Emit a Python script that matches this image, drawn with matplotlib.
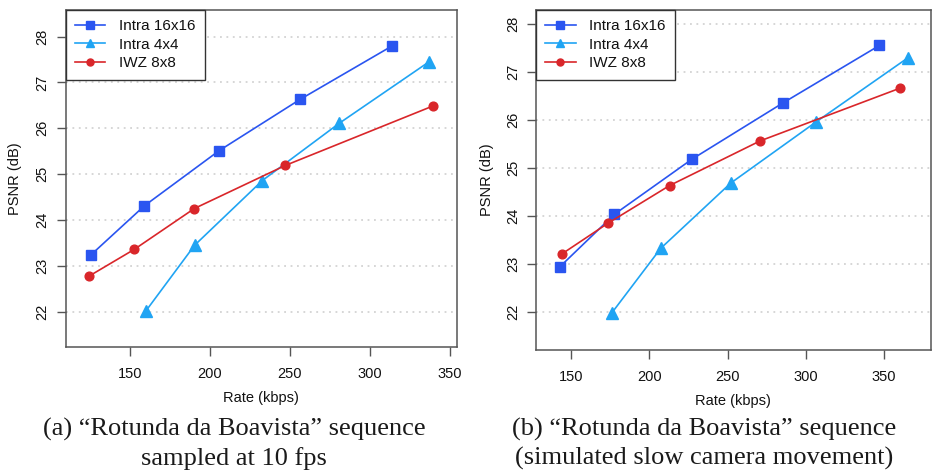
import matplotlib
matplotlib.use("Agg")
from matplotlib import pyplot as plt

plt.rcParams['font.family'] = ['Liberation Sans', 'DejaVu Sans']

labels = ["Intra 16x16", "Intra 4x4", "IWZ 8x8"]
colors = ["#2a55f0", "#20a4f3", "#d9262a"]
markers = ["s", "^", "o"]

# (a) sampled at 10 fps
rate_a = [
    [125.6, 159.0, 205.6, 256.3, 314.0],
    [160.0, 190.4, 232.7, 280.8, 336.9],
    [124.6, 152.7, 190.2, 247.1, 339.6],
]
psnr_a = [
    [23.24, 24.31, 25.51, 26.63, 27.80],
    [22.02, 23.45, 24.86, 26.11, 27.45],
    [22.78, 23.36, 24.25, 25.19, 26.49],
]

# (b) simulated slow camera movement
rate_b = [
    [143.0, 177.7, 227.3, 285.3, 347.0],
    [176.2, 207.3, 252.0, 306.3, 365.1],
    [144.0, 173.4, 213.0, 270.8, 360.2],
]
psnr_b = [
    [22.94, 24.03, 25.18, 26.35, 27.55],
    [21.98, 23.32, 24.68, 25.95, 27.29],
    [23.20, 23.84, 24.63, 25.56, 26.66],
]

xticks = [150, 200, 250, 300, 350]
yticks = [22, 23, 24, 25, 26, 27, 28]

captions = [
    "(a) \u201cRotunda da Boavista\u201d sequence\nsampled at 10 fps",
    "(b) \u201cRotunda da Boavista\u201d sequence\n(simulated slow camera movement)",
]

W, H = 933, 472
fig = plt.figure(figsize=(W / 100, H / 100), dpi=100)


def panel(box, rates, psnrs, xlim, ylim, xl, yl):
    x0, top, x1, bottom = box
    ax = fig.add_axes([x0 / W, 1 - bottom / H, (x1 - x0) / W, (bottom - top) / H])
    for y in yticks:
        ax.axhline(y, color="#cccccc", linestyle=(0, (1.2, 3)), linewidth=1.1, zorder=0)
    for r, p, c, m, lab in zip(rates, psnrs, colors, markers, labels):
        ms = 7.2 if m == "s" else (8 if m == "^" else 6.3)
        ax.plot(r, p, color=c, marker=m, markersize=ms, linewidth=1.2, label=lab)
    ax.set_xlim(*xlim)
    ax.set_ylim(*ylim)
    ax.set_xticks(xticks)
    ax.set_yticks(yticks)
    ax.tick_params(axis="both", direction="out", length=6.5, width=1, color="#555555",
                   labelsize=10.5, labelcolor="#111111")
    ax.tick_params(axis="x", pad=8)
    ax.tick_params(axis="y", pad=5)
    for t in ax.get_yticklabels():
        t.set_rotation(90)
        t.set_va("center")
    for s in ax.spines.values():
        s.set_color("#555555")
        s.set_linewidth(1.1)
    ax.set_xlabel("Rate (kbps)", fontsize=10.5, color="#111111")
    ax.set_ylabel("PSNR (dB)", fontsize=10.5, color="#111111")
    ax.xaxis.set_label_coords(0.5, xl)
    ax.xaxis.label.set_va("center")
    ax.yaxis.set_label_coords(yl, 0.5)
    ax.yaxis.label.set_va("center")
    leg = ax.legend(loc="upper left", bbox_to_anchor=(0, 1), borderaxespad=0,
                    fontsize=11, fancybox=False, framealpha=1, edgecolor="#333333",
                    handlelength=2.0, handletextpad=0.9, labelspacing=0.3,
                    borderpad=0.6, markerscale=0.8, labelcolor="#111111")
    leg.get_frame().set_linewidth(1.0)
    return ax


panel((65.7, 10, 456.7, 347), rate_a, psnr_a, (109.8, 354.2), (21.23, 28.58), -0.151, -0.13)
panel((536, 10, 930.7, 350), rate_b, psnr_b, (127.6, 379.8), (21.2, 28.29), -0.15, -0.124)

for cx, cap in zip([234, 704], captions):
    fig.text(cx / W, 1 - 444 / H, cap, ha="center", va="center", fontsize=19,
             family=["Liberation Serif", "DejaVu Serif"], linespacing=1.38, color="#1a1a1a")

fig.savefig("out.png", dpi=100)
